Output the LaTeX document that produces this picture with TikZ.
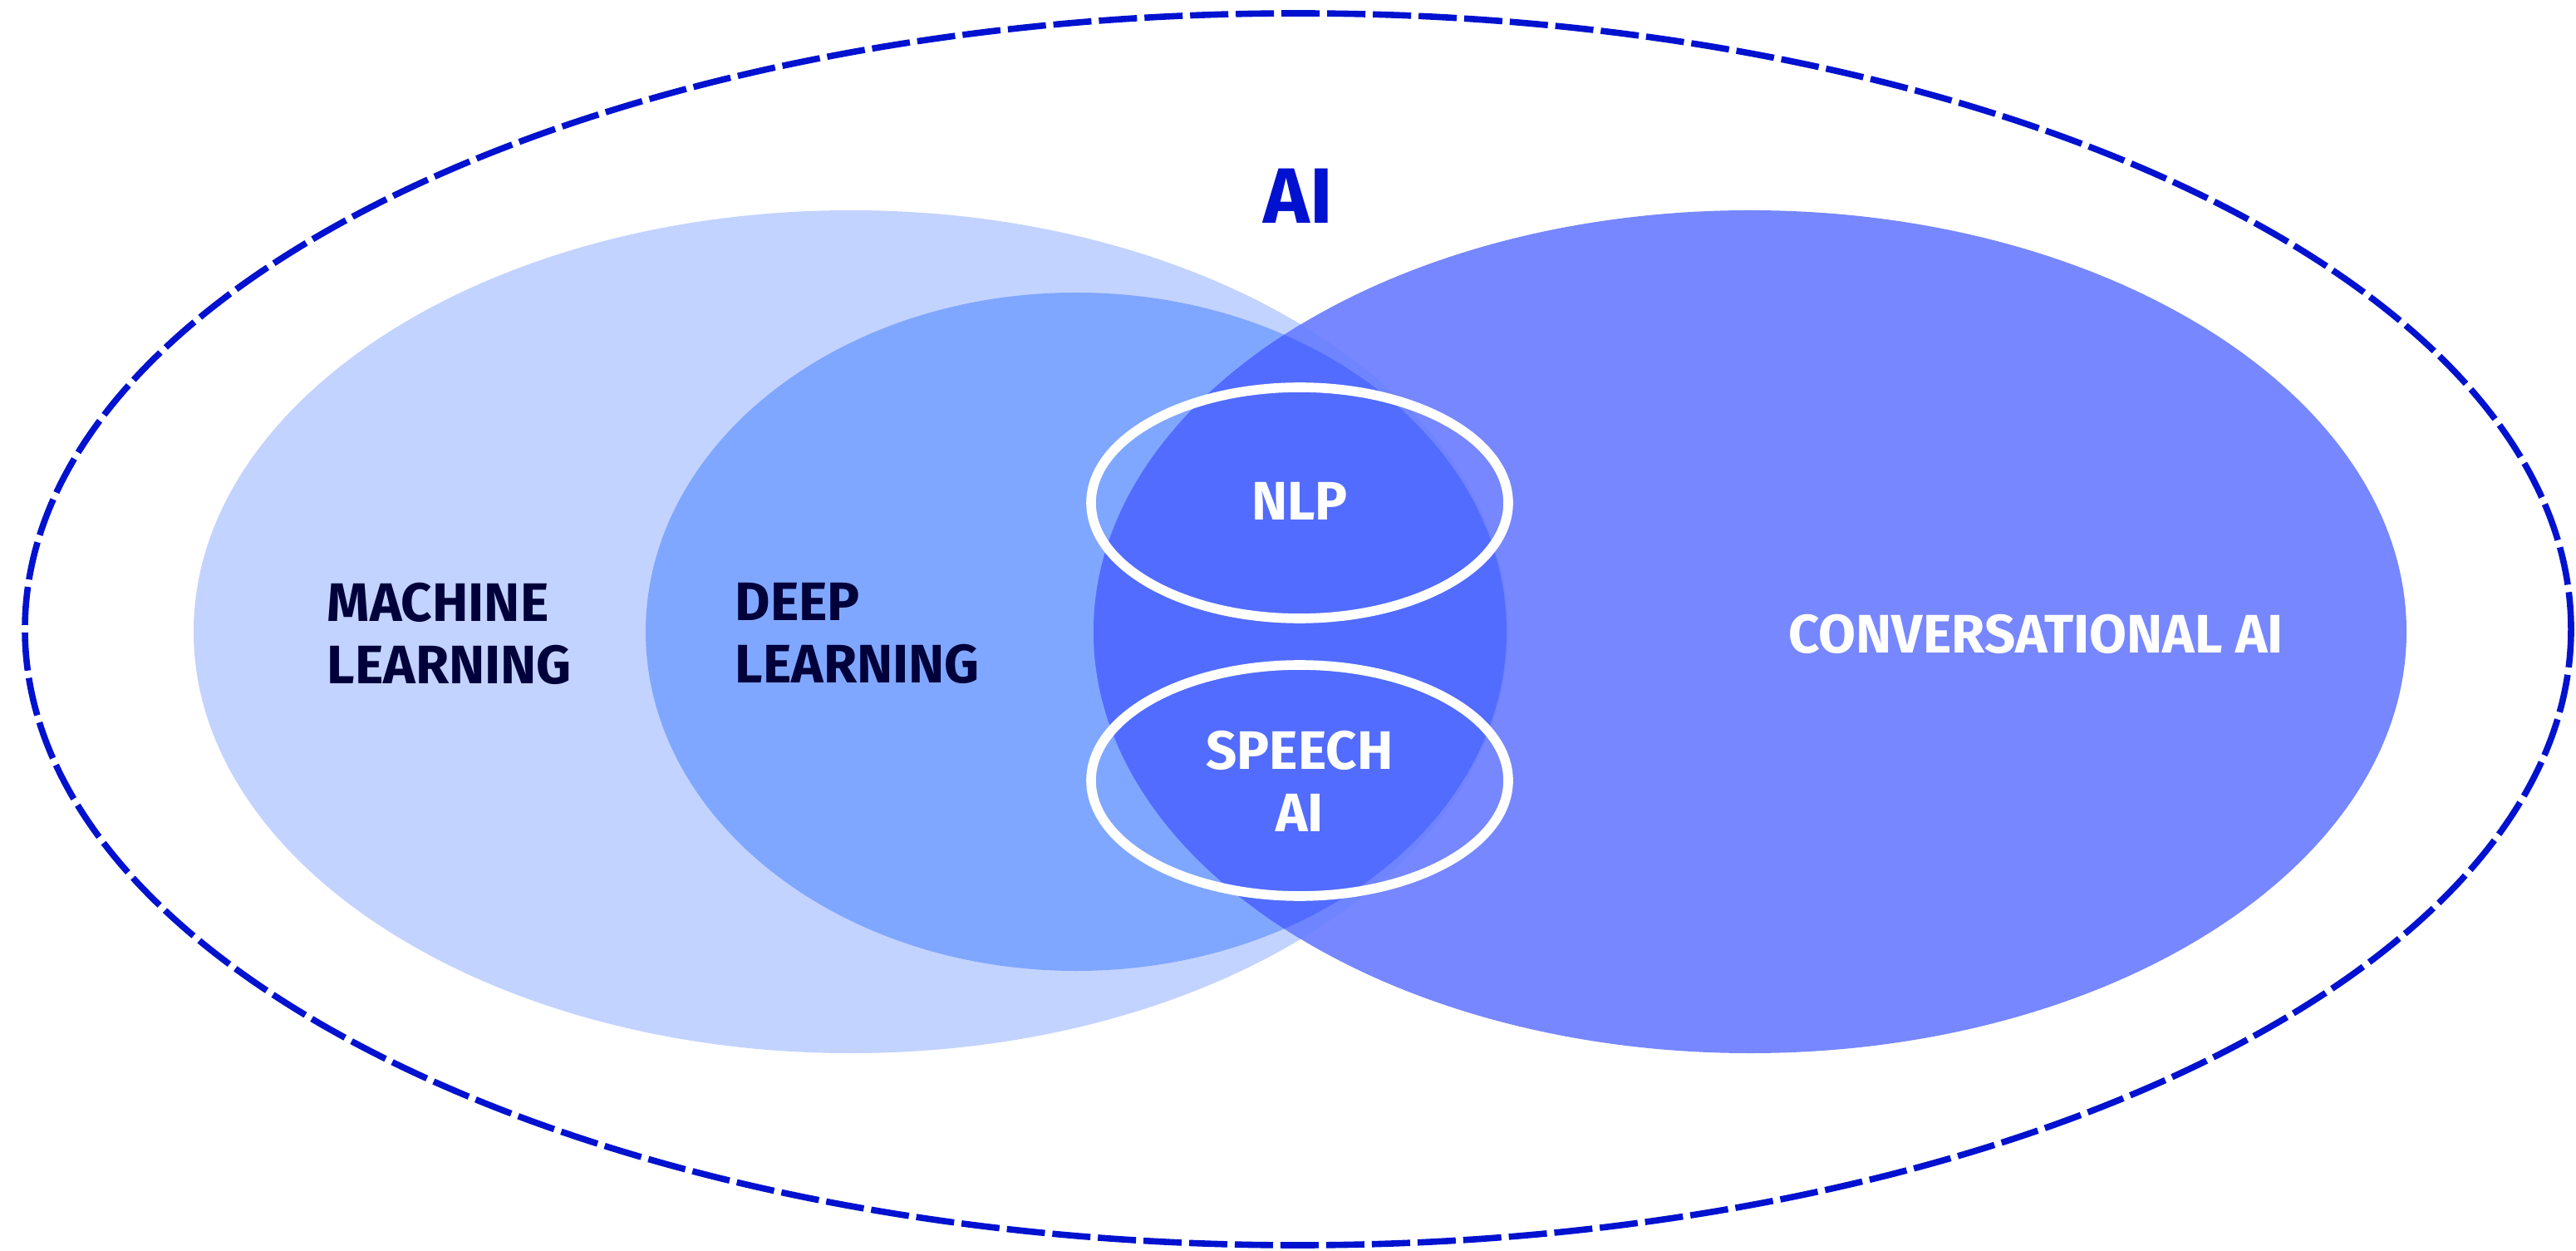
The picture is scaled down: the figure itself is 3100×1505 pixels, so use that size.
\documentclass[tikz,border=0pt]{standalone}
\usepackage{fontspec}
\setmainfont{Fira Sans}
\definecolor{mlfill}{HTML}{C3D3FF}
\definecolor{dlfill}{HTML}{80A7FF}
\definecolor{cafill}{HTML}{7787FF}
\definecolor{camlfill}{HTML}{6F84FF}
\definecolor{coreblue}{HTML}{526CFF}
\definecolor{aiblue}{HTML}{0012CF}
\definecolor{navy}{HTML}{00003A}
\tikzset{
  ring/.style={draw=white, line width=2.9pt},
  outerline/.style={draw=aiblue, line width=1.9pt, dash pattern=on 11.5pt off 2.25pt},
  darklabel/.style={text=navy, font=\bfseries\fontsize{16.3}{18.75}\selectfont, align=left, anchor=west, inner sep=0pt},
  lightlabel/.style={text=white, font=\bfseries\fontsize{16.3}{18.75}\selectfont, align=center, inner sep=0pt},
}
\begin{document}
\begin{tikzpicture}[x=0.25pt, y=-0.25pt]
\useasboundingbox (0,0) rectangle (3100,1505);
% machine learning and deep learning sets
\fill[mlfill] (1024,760) ellipse [x radius=791, y radius=507];
\fill[dlfill] (1295,760) ellipse [x radius=518, y radius=408];
% conversational AI set
\fill[cafill] (2106,760) ellipse [x radius=790, y radius=507];
% overlaps
\begin{scope}
  \clip (2106,760) ellipse [x radius=790, y radius=507];
  \fill[camlfill] (1024,760) ellipse [x radius=791, y radius=507];
  \fill[coreblue] (1295,760) ellipse [x radius=518, y radius=408];
\end{scope}
% NLP and speech rings
\draw[ring] (1564,605) ellipse [x radius=251, y radius=139];
\draw[ring] (1564,939) ellipse [x radius=251, y radius=139];
% outer AI boundary
\draw[outerline] (1562,757) ellipse [x radius=1532, y radius=741];
% labels
\node[text=aiblue, font=\bfseries\fontsize{23.6}{26}\selectfont, inner sep=0pt] (ai) at (1562,236) {AI};
\node[darklabel] (ml) at (393,762) {MACHINE\\LEARNING};
\node[darklabel] (dl) at (884,762) {DEEP\\LEARNING};
\node[lightlabel] (ca) at (2450,763) {CONVERSATIONAL AI};
\node[lightlabel] (nlp) at (1564,603) {NLP};
\node[lightlabel] (speech) at (1564,940) {SPEECH\\AI};
\end{tikzpicture}
\end{document}
